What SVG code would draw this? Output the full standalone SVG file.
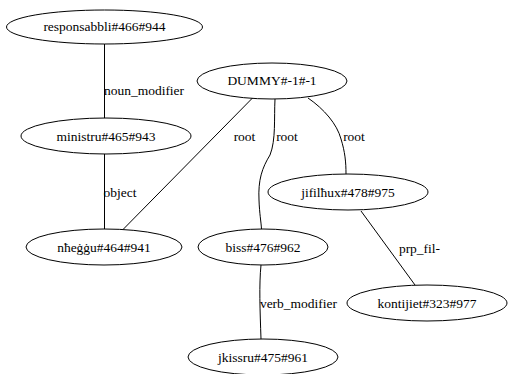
<svg xmlns="http://www.w3.org/2000/svg" width="509" height="374" viewBox="0 0 509 374">
  <style>
    .node ellipse { fill: none; stroke: #000; stroke-width: 1; }
    .node text { font-family: "Liberation Serif", "Times New Roman", serif; font-size: 13.5px; text-anchor: middle; fill: #000; }
    .edges path { fill: none; stroke: #000; stroke-width: 1; }
    .edges text { font-family: "Liberation Serif", "Times New Roman", serif; font-size: 13.5px; text-anchor: middle; fill: #000; }
  </style>
  <rect width="509" height="374" fill="#fff"/>

  <g class="edges" id="edges">
    <path d="M104.5,44 L104.5,118"/>
    <text x="144" y="94.5">noun_modifier</text>

    <path d="M104.5,154 L104.5,229"/>
    <text x="120" y="196.5">object</text>

    <path d="M252.5,98 L123,229.5"/>
    <text x="244.5" y="141">root</text>

    <path d="M275,99 C274,118 276,140 270,155 C262,168 258,180 259,200 C259.5,214 261,221 261.5,229"/>
    <text x="287" y="141">root</text>

    <path d="M308,98 C324,109 337,124 341,139 C345,152 346,162 346,174"/>
    <text x="354" y="141">root</text>

    <path d="M361,211 L415,285"/>
    <text x="419.5" y="252.5">prp_fil-</text>

    <path d="M261,265 C259,285 260,310 261,339"/>
    <text x="298.5" y="307.5">verb_modifier</text>
  </g>

  <g class="node" id="responsabbli">
    <ellipse cx="104.5" cy="27" rx="98" ry="17"/>
    <text x="104.5" y="31">responsabbli#466#944</text>
  </g>
  <g class="node" id="dummy">
    <ellipse cx="272" cy="81" rx="75" ry="18"/>
    <text x="272" y="85">DUMMY#-1#-1</text>
  </g>
  <g class="node" id="ministru">
    <ellipse cx="106" cy="136" rx="85" ry="18"/>
    <text x="106" y="140.5">ministru#465#943</text>
  </g>
  <g class="node" id="jifilhux">
    <ellipse cx="348" cy="192" rx="80" ry="18"/>
    <text x="348" y="196.5">jifilħux#478#975</text>
  </g>
  <g class="node" id="nheggu">
    <ellipse cx="104" cy="247" rx="78" ry="18"/>
    <text x="104" y="251.5">nħeġġu#464#941</text>
  </g>
  <g class="node" id="biss">
    <ellipse cx="263" cy="247" rx="65" ry="18"/>
    <text x="263" y="251.5">biss#476#962</text>
  </g>
  <g class="node" id="kontijiet">
    <ellipse cx="427" cy="303" rx="80" ry="18"/>
    <text x="427" y="307.5">kontijiet#323#977</text>
  </g>
  <g class="node" id="jkissru">
    <ellipse cx="263" cy="357" rx="75" ry="18"/>
    <text x="263" y="362">jkissru#475#961</text>
  </g>
</svg>
